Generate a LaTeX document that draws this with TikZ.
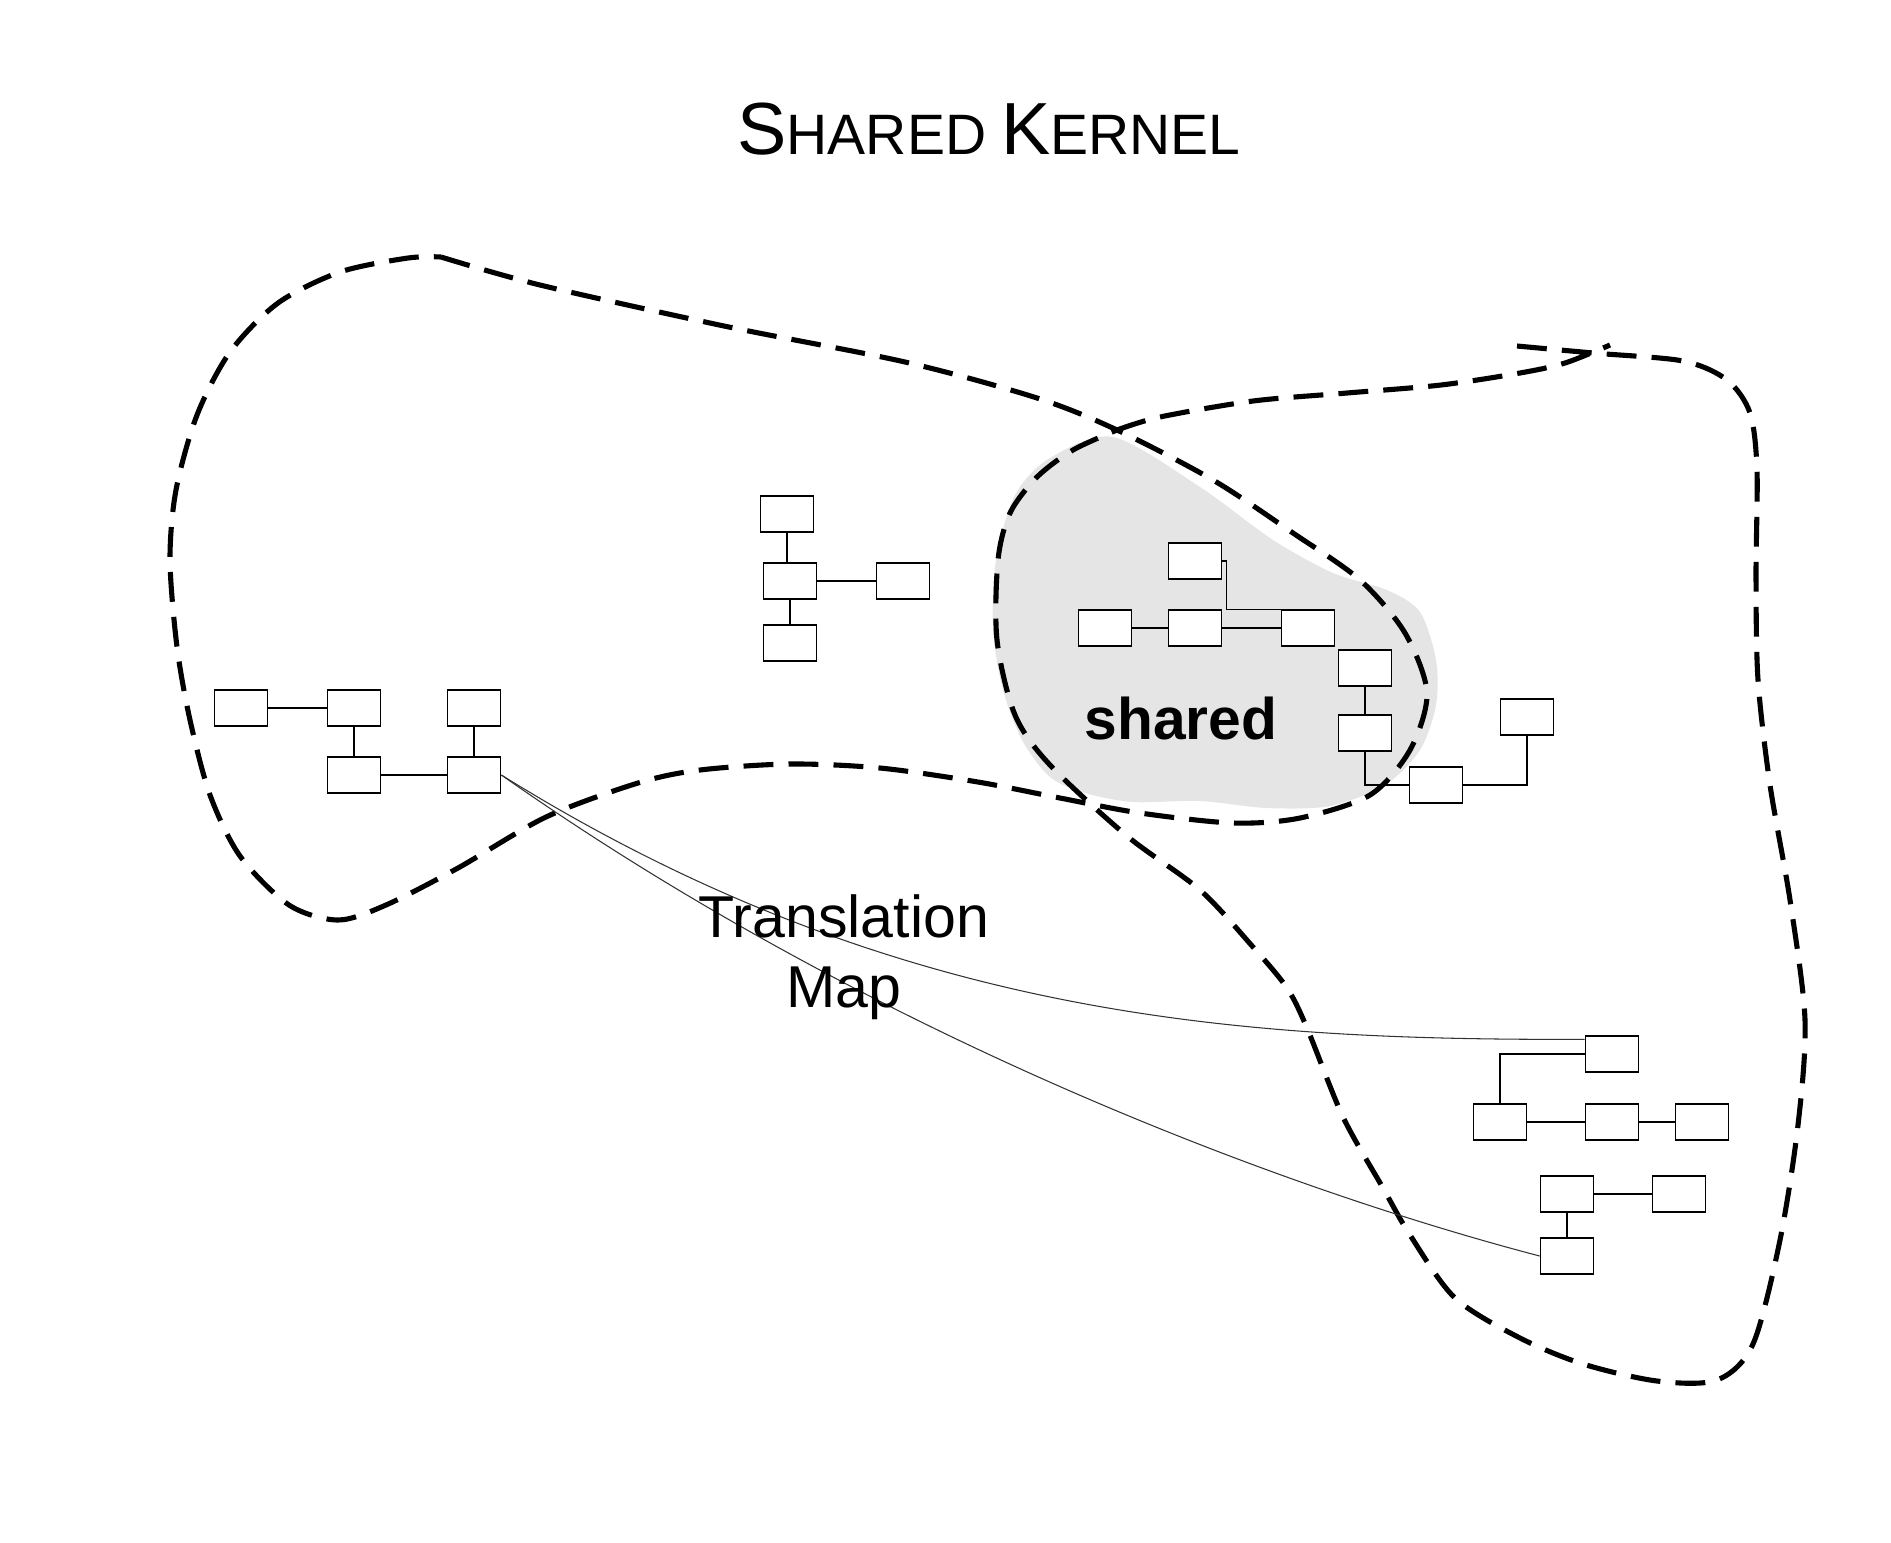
\documentclass[tikz,border=0pt]{standalone}
\usepackage{fontspec}
\setmainfont{Liberation Sans}
\usetikzlibrary{calc}

\definecolor{sharedgray}{gray}{0.898}

\newcommand{\capword}[2]{{\fontsize{21}{24}\selectfont #1}{\fontsize{16.2}{19}\selectfont #2}}

\begin{document}
\begin{tikzpicture}[x=0.01cm,y=-0.01cm,
    cls/.style={draw,fill=white,line width=0.5pt,minimum width=0.53cm,minimum height=0.355cm,inner sep=0pt},
    assoc/.style={line width=0.4pt},
    bounded/.style={line width=1.45pt,dash pattern=on 8.5pt off 4.3pt},
    mapline/.style={line width=0.3pt,black!80}]
\useasboundingbox (0,0) rectangle (1891,1542);

\node[anchor=base] (title) at (989,154) {\capword{S}{HARED}\hspace{1.5pt} \capword{K}{ERNEL}};

% shared part of the two models
\fill[sharedgray] plot[smooth cycle] coordinates {(1113,437) (1200,487) (1273,540) (1333,573) (1387,590) (1420,612) (1436,660) (1436,705) (1420,750) (1385,785) (1330,806) (1267,808) (1200,801) (1133,802) (1085,793) (1050,777) (1022,740) (1003,690) (993,630) (996,560) (1015,495) (1050,458)};

% the two bounded contexts
\draw[bounded] plot[smooth] coordinates {(441,257) (540,285) (724,326) (905,362) (1037,398) (1117,430) (1213,480) (1293,533) (1360,580) (1405,633) (1427,693) (1410,750) (1370,795) (1300,818) (1233,823) (1140,813) (1060,798) (978,782) (880,768) (790,764) (700,770) (638,783) (546,817) (458,868) (386,905) (338,920) (289,905) (240,856) (210,795) (190,720) (177,647) (170,560) (176,490) (197,415) (230,352) (278,303) (340,272) (408,258) (441,257)};
\draw[bounded] plot[smooth] coordinates {(1517,346) (1593,353) (1683,361) (1727,380) (1750,413) (1757,470) (1756,576) (1758,680) (1770,785) (1790,900) (1805,1020) (1798,1125) (1780,1240) (1753,1344) (1717,1380) (1657,1381) (1583,1364) (1520,1338) (1455,1298) (1410,1235) (1383,1188) (1343,1117) (1307,1028) (1287,988) (1253,947) (1200,890) (1127,836) (1050,765) (1015,715) (997,640) (998,560) (1010,513) (1037,477) (1073,450) (1117,430)}
    plot[smooth] coordinates {(1117,430) (1160,417) (1253,401) (1347,393) (1441,385) (1520,373) (1565,363) (1610,345)};

% left model
\node[cls] (L1) at (241,708) {};
\node[cls] (L2) at (354,708) {};
\node[cls] (L3) at (474,708) {};
\node[cls] (L4) at (354,775) {};
\node[cls] (L5) at (474,775) {};
\draw[assoc] (L1) -- (L2);
\draw[assoc] (L2) -- (L4);
\draw[assoc] (L4) -- (L5);
\draw[assoc] (L3) -- (L5);

% middle model
\node[cls] (M1) at (787,514) {};
\node[cls] (M2) at (790,581) {};
\node[cls] (M3) at (903,581) {};
\node[cls] (M4) at (790,643) {};
\draw[assoc] (M1.south) -- (M1.south |- M2.north);
\draw[assoc] (M2) -- (M3);
\draw[assoc] (M2) -- (M4);

% shared model
\node[cls] (S1) at (1195,561) {};
\node[cls] (S2) at (1105,628) {};
\node[cls] (S3) at (1195,628) {};
\node[cls] (S4) at (1308,628) {};
\node[cls] (S5) at (1365,668) {};
\node[cls] (S6) at (1365,733) {};
\node[cls] (S7) at (1436,785) {};
\node[cls] (S8) at (1527,717) {};
\draw[assoc] (S2) -- (S3);
\draw[assoc] (S3) -- (S4);
\draw[assoc] (S1.east) -- ++(4,0) |- (S4.north west);
\draw[assoc] (S5) -- (S6);
\draw[assoc] (S6.south) |- (S7.west);
\draw[assoc] (S7.east) -| (S8.south);
\node[font=\bfseries\fontsize{16.7}{19}\selectfont,anchor=base] (shared) at (1181,739) {shared};

% right model
\node[cls] (R1) at (1612,1054) {};
\node[cls] (R2) at (1500,1122) {};
\node[cls] (R3) at (1612,1122) {};
\node[cls] (R4) at (1702,1122) {};
\node[cls] (R5) at (1567,1194) {};
\node[cls] (R6) at (1679,1194) {};
\node[cls] (R7) at (1567,1256) {};
\draw[assoc] (R1.west) -| (R2.north);
\draw[assoc] (R2) -- (R3);
\draw[assoc] (R3) -- (R4);
\draw[assoc] (R5) -- (R6);
\draw[assoc] (R5) -- (R7);

% translation map
\draw[mapline] (L5.east) .. controls (900,1023) and (1250,1040) .. ($(R1.north west)+(0,4)$);
\draw[mapline] (L5.east) .. controls (850,1020) and (1250,1180) .. (R7.west);
\node[align=center,anchor=base,font=\fontsize{16.8}{19.8}\selectfont] (tmap) at (844,1007) {Translation\\Map};
\end{tikzpicture}
\end{document}
